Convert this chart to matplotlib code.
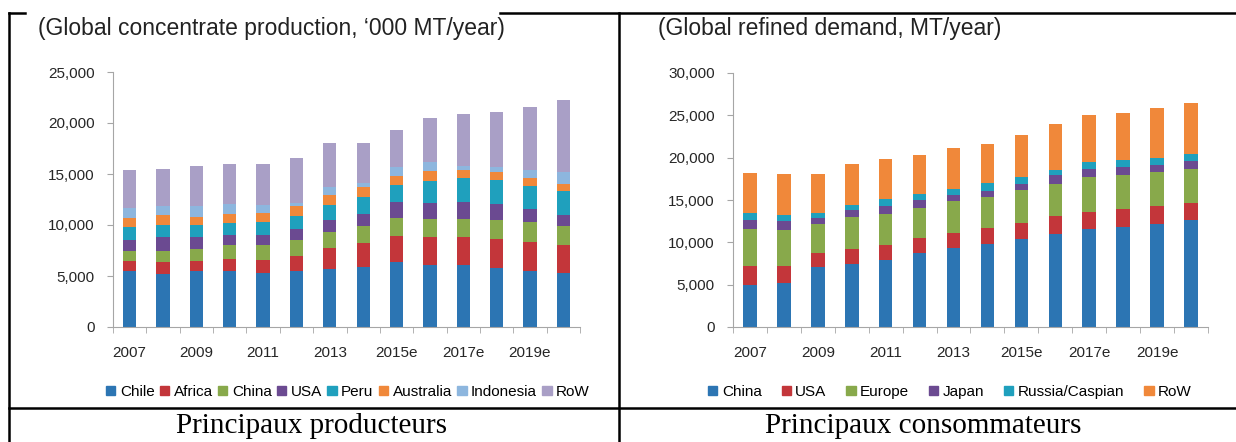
import numpy as np
import matplotlib
matplotlib.use("Agg")
import matplotlib.pyplot as plt
from matplotlib.lines import Line2D
from matplotlib.patches import Patch

# --- data -------------------------------------------------------------
years = ["2007", "2008", "2009", "2010", "2011", "2012", "2013", "2014",
         "2015e", "2016e", "2017e", "2018e", "2019e", "2020e"]

# left chart: global concentrate production ('000 MT/year)
prod_series = ["Chile", "Africa", "China", "USA", "Peru", "Australia", "Indonesia", "RoW"]
chile     = [5470, 5200, 5470, 5470, 5280, 5470, 5700, 5860, 6330, 6070, 6070, 5740, 5500, 5250]
africa    = [1030, 1150, 1030, 1230, 1320, 1530, 2000, 2340, 2620, 2780, 2780, 2860, 2860, 2780]
china_p   = [1000, 1150, 1150, 1300, 1400, 1500, 1600, 1670, 1750, 1750, 1750, 1900, 1900, 1900]
usa_p     = [1030, 1300, 1150, 1050, 1050, 1100, 1200, 1230, 1600, 1600, 1700, 1570, 1310, 1050]
peru      = [1240, 1200, 1200, 1150, 1210, 1300, 1500, 1600, 1600, 2160, 2350, 2330, 2300, 2320]
australia = [880, 1000, 800, 900, 940, 1000, 900, 1000, 900, 890, 750, 750, 730, 700]
indonesia = [1050, 900, 1100, 1000, 800, 300, 800, 370, 900, 950, 400, 550, 800, 1200]
row_p     = [3700, 3600, 3900, 3900, 4000, 4400, 4300, 3930, 3600, 4300, 5100, 5400, 6200, 7100]

# right chart: global refined demand (MT/year)
dem_series = ["China", "USA", "Europe", "Japan", "Russia/Caspian", "RoW"]
china_d  = [4920, 5200, 7090, 7400, 7950, 8740, 9370, 9840, 10350, 11020, 11600, 11800, 12200, 12680]
usa_d    = [2250, 1970, 1690, 1770, 1770, 1760, 1770, 1860, 1930, 2050, 1980, 2180, 2050, 1970]
europe   = [4430, 4330, 3420, 3830, 3680, 3560, 3700, 3650, 3860, 3860, 4120, 3920, 4050, 4050]
japan    = [1080, 1000, 700, 860, 900, 980, 790, 710, 790, 1060, 1000, 1000, 870, 870]
russia   = [780, 700, 600, 590, 860, 710, 710, 940, 770, 610, 800, 800, 830, 830]
row_d    = [4730, 4830, 4530, 4750, 4740, 4550, 4840, 4650, 4940, 5400, 5500, 5600, 5870, 6060]

prod_colors = ["#2C75B3", "#C3363A", "#88A94B", "#6B4A91", "#1FA0BD", "#F0883A", "#8DB6DE", "#A99FC6"]
dem_colors = ["#2C75B3", "#C3363A", "#88A94B", "#6B4A91", "#1FA0BD", "#F0883A"]

W, H = 1236, 442
sans = "Liberation Sans"


def fx(px):
    return px / W


def fy(py):
    return 1 - py / H


def stacked(ax, series, names, colors, ymax, step):
    x = np.arange(len(years))
    bottom = np.zeros(len(years))
    for vals, name, col in zip(series, names, colors):
        ax.bar(x, vals, 0.4, bottom=bottom, color=col, label=name)
        bottom += np.array(vals)
    ax.set_xlim(-0.5, len(years) - 0.5)
    ax.set_ylim(0, ymax)
    ax.set_yticks(np.arange(0, ymax + 1, step))
    ax.set_yticklabels([f"{v:,}" for v in range(0, ymax + 1, step)],
                       family=sans, fontsize=11, color="#262626")
    ax.set_xticks(x[::2])
    ax.set_xticklabels(years[::2], family=sans, fontsize=11, color="#262626")
    ax.set_xticks(np.arange(-0.5, len(years)), minor=True)
    ax.tick_params(axis="x", which="major", length=0, pad=14)
    ax.tick_params(axis="x", which="minor", length=4, color="#A6A6A6")
    ax.tick_params(axis="y", length=4, color="#A6A6A6", pad=9)
    for s in ["top", "right"]:
        ax.spines[s].set_visible(False)
    for s in ["left", "bottom"]:
        ax.spines[s].set_color("#A6A6A6")
        ax.spines[s].set_linewidth(0.8)


fig = plt.figure(figsize=(W / 100, H / 100), dpi=100)

ax1 = fig.add_axes([fx(113), fy(327), fx(580) - fx(113), fy(72) - fy(327)])
stacked(ax1, [chile, africa, china_p, usa_p, peru, australia, indonesia, row_p],
        prod_series, prod_colors, 25000, 5000)

ax2 = fig.add_axes([fx(733), fy(327), fx(1208) - fx(733), fy(73) - fy(327)])
stacked(ax2, [china_d, usa_d, europe, japan, russia, row_d],
        dem_series, dem_colors, 30000, 5000)

fig.text(fx(38), fy(29), "(Global concentrate production, \u2018000 MT/year)",
         fontsize=16.5, family=sans, color="#222222", va="center", ha="left")
fig.text(fx(658), fy(29), "(Global refined demand, MT/year)",
         fontsize=16.5, family=sans, color="#222222", va="center", ha="left")

for ax, cx, cs in [(ax1, 348, 0.35), (ax2, 950, 1.3)]:
    h, l = ax.get_legend_handles_labels()
    handles = [Patch(color=p.patches[0].get_facecolor()) for p in h]
    fig.legend(handles, l, loc="center", bbox_to_anchor=(fx(cx), fy(392)), ncol=len(l),
               frameon=False, handlelength=0.6, handleheight=0.6, handletextpad=0.3,
               columnspacing=cs, prop={"family": sans, "size": 11})

fig.text(fx(311), fy(426), "Principaux producteurs", fontsize=21,
         family="Liberation Serif", ha="center", va="center")
fig.text(fx(923), fy(426), "Principaux consommateurs", fontsize=21,
         family="Liberation Serif", ha="center", va="center")

# table borders
lw = 1.8
for xs, ys in [((9, 9), (13, 442)), ((619, 619), (13, 442)), ((9, 1236), (408, 408)),
               ((9, 25), (13, 13)), ((500, 1236), (13, 13))]:
    fig.add_artist(Line2D([fx(x) for x in xs], [fy(y) for y in ys], color="black", lw=lw))

fig.savefig("out.png", dpi=100)
